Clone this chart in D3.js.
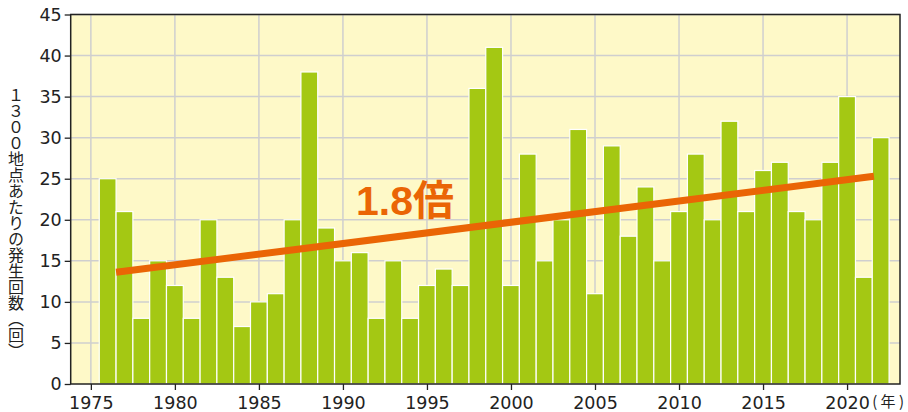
<!DOCTYPE html>
<html>
<head>
<meta charset="utf-8">
<title>1300地点あたりの発生回数</title>
<style>
  body { margin: 0; background: #fff; }
  svg text { font-family: "DejaVu Sans", Arial, sans-serif; }
</style>
</head>
<body>
<div id="chart"></div>
<script src="https://d3js.org/d3.v7.min.js"></script>
<script>
(function(d3) {
  'use strict';

  var years = d3.range(1976, 2023);
  var counts = [25, 21, 8, 15, 12, 8, 20, 13, 7, 10,
                11, 20, 38, 19, 15, 16, 8, 15, 8, 12,
                14, 12, 36, 41, 12, 28, 15, 20, 31, 11,
                29, 18, 24, 15, 21, 28, 20, 32, 21, 26,
                27, 21, 20, 27, 35, 13, 30];
  var yTicks = [0, 5, 10, 15, 20, 25, 30, 35, 40, 45];
  var xTicks = [1975, 1980, 1985, 1990, 1995, 2000, 2005, 2010, 2015, 2020];
  var trendYears = [1976.5, 2021.6];
  var trendValues = [13.6, 25.3];

  var width = 908, height = 412;
  var left = 70.7, right = 900, top = 14.5, bottom = 384;

  var x = d3.scaleLinear().domain([1973.8, 2023.15]).range([left, right]);
  var y = d3.scaleLinear().domain([0, 45]).range([bottom, top]);
  var bw = x(1) - x(0);

  var svg = d3.select('#chart').append('svg')
    .attr('width', width).attr('height', height);

  svg.append('rect')
    .attr('x', left).attr('y', top)
    .attr('width', right - left).attr('height', bottom - top)
    .attr('fill', '#fef9c8');

  // grid
  svg.append('g').selectAll('line').data(yTicks.slice(1)).enter().append('line')
    .attr('x1', left).attr('x2', right)
    .attr('y1', function(d) { return y(d); }).attr('y2', function(d) { return y(d); })
    .attr('stroke', '#cfcfcf').attr('stroke-width', 1.5);
  svg.append('g').selectAll('line').data(xTicks).enter().append('line')
    .attr('x1', function(d) { return x(d); }).attr('x2', function(d) { return x(d); })
    .attr('y1', top).attr('y2', bottom)
    .attr('stroke', '#cfcfcf').attr('stroke-width', 1.5);

  // bars
  svg.append('g').selectAll('rect').data(counts).enter().append('rect')
    .attr('x', function(d, i) { return x(years[i]) - bw / 2; })
    .attr('y', function(d) { return y(d); })
    .attr('width', bw)
    .attr('height', function(d) { return bottom - y(d); })
    .attr('fill', '#a4c813')
    .attr('stroke', '#ffffff').attr('stroke-width', 1.2);

  // trend
  svg.append('line')
    .attr('x1', x(trendYears[0])).attr('y1', y(trendValues[0]))
    .attr('x2', x(trendYears[1])).attr('y2', y(trendValues[1]))
    .attr('stroke', '#ea6505').attr('stroke-width', 7);

  svg.append('text')
    .attr('x', 356).attr('y', 215)
    .attr('fill', '#ea6505')
    .style('font-size', '41px').style('font-weight', 'bold')
    .style('font-family', '"Liberation Sans", "Noto Sans CJK JP", sans-serif')
    .text('1.8倍');

  // frame
  svg.append('rect')
    .attr('x', left).attr('y', top)
    .attr('width', right - left).attr('height', bottom - top)
    .attr('fill', 'none').attr('stroke', '#222').attr('stroke-width', 1.5);

  // axes
  var yAxis = svg.append('g')
    .attr('transform', 'translate(' + left + ',0)')
    .call(d3.axisLeft(y).tickValues(yTicks).tickSize(6).tickPadding(3));
  var xAxis = svg.append('g')
    .attr('transform', 'translate(0,' + bottom + ')')
    .call(d3.axisBottom(x).tickValues(xTicks).tickFormat(d3.format('d')).tickSize(6).tickPadding(7));
  [yAxis, xAxis].forEach(function(g) {
    g.select('.domain').remove();
    g.selectAll('line').attr('stroke', '#222').attr('stroke-width', 1.3);
    g.selectAll('text').attr('fill', '#222')
      .style('font-size', '17.5px')
      .style('font-family', '"DejaVu Sans", Arial, sans-serif');
  });

  svg.append('text')
    .attr('x', 904).attr('y', 407)
    .attr('text-anchor', 'end')
    .attr('fill', '#222')
    .style('font-size', '15px')
    .style('font-family', '"Noto Sans CJK JP", sans-serif')
    .text('( 年 )');

  svg.append('text')
    .attr('x', 16).attr('y', 87)
    .attr('fill', '#222')
    .style('font-size', '16px')
    .style('font-family', '"Noto Sans CJK JP", sans-serif')
    .style('writing-mode', 'vertical-rl')
    .text('１３００地点あたりの発生回数（回）');

})(window.d3);
</script>
</body>
</html>
